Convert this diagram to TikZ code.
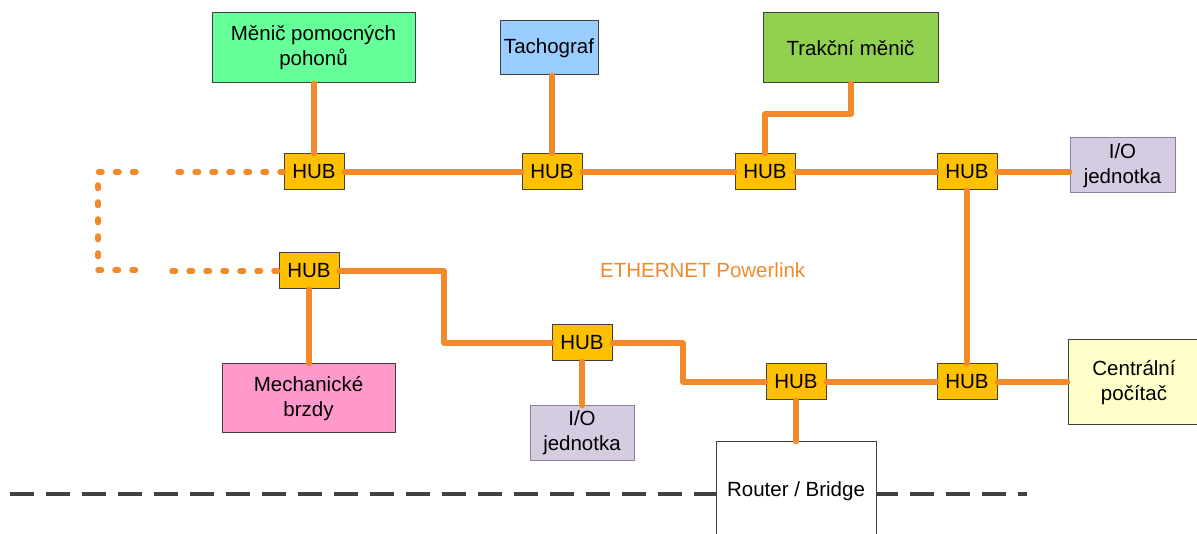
\documentclass[tikz,border=0pt]{standalone}
\usepackage{fontspec}
\setmainfont{Liberation Sans}
\definecolor{lnk}{HTML}{F28A2C}
\definecolor{hubc}{HTML}{FFC000}
\definecolor{c1}{HTML}{66FF99}
\definecolor{c2}{HTML}{99CCFF}
\definecolor{c3}{HTML}{92D050}
\definecolor{c4}{HTML}{D5CCE2}
\definecolor{c5}{HTML}{FF99CC}
\definecolor{c6}{HTML}{FFFFCC}
\definecolor{dk}{HTML}{404040}
\definecolor{iob}{HTML}{8A7E9E}
\begin{document}
\begin{tikzpicture}[x=1pt,y=-1pt,
  box/.style={draw=dk,line width=1pt,rectangle,inner sep=0pt,align=center,
    font=\fontsize{20.5}{25}\selectfont},
  hub/.style={box,fill=hubc,minimum width=60pt,minimum height=36pt},
  link/.style={draw=lnk,line width=5.5pt,line cap=round,line join=round},
  dots/.style={draw=lnk,line width=5.5pt,line cap=round,dash pattern=on 3.5pt off 13.5pt},
  sep/.style={draw=dk,line width=3.5pt,dash pattern=on 24pt off 12pt}]
\clip (0,0) rectangle (1197,534);
\fill[white] (0,0) rectangle (1197,534);
% separator
\coordinate (s1) at (10,494);
\coordinate (s2) at (1027,494);
\draw[sep] (s1) -- (s2);
% nodes
\node[box,fill=c1,minimum width=203pt,minimum height=70pt] (men) at (313.5,48) {Měnič pomocných\\pohonů};
\node[box,fill=c2,minimum width=98pt,minimum height=54pt] (tach) at (549,48) {Tachograf};
\node[box,fill=c3,minimum width=175pt,minimum height=70pt] (trak) at (850.5,48) {Trakční měnič};
\node[box,draw=iob,fill=c4,minimum width=105pt,minimum height=55pt] (io1) at (1122.5,165.5) {I/O\\jednotka};
\node[hub] (hub1) at (314,172) {HUB};
\node[hub] (hub2) at (552,172) {HUB};
\node[hub] (hub3) at (765,172) {HUB};
\node[hub] (hub4) at (967,172) {HUB};
\node[hub] (hubL) at (309,271) {HUB};
\node[hub] (hub5) at (582,343) {HUB};
\node[hub] (hub6) at (796,382) {HUB};
\node[hub] (hub7) at (967,382) {HUB};
\node[box,fill=c5,minimum width=173pt,minimum height=69pt] (mech) at (308.5,398.5) {Mechanické\\brzdy};
\node[box,draw=iob,fill=c4,minimum width=104pt,minimum height=54pt] (io2) at (582,433) {I/O\\jednotka};
\node[box,fill=c6,minimum width=132pt,minimum height=85pt] (cent) at (1134,382.5) {Centrální\\počítač};
\node[box,fill=white,minimum width=160pt,minimum height=98pt] (router) at (796,491) {Router / Bridge};
\node[text=lnk,font=\fontsize{20.5}{25}\selectfont,anchor=west,inner sep=0pt] (eth) at (600,270) {ETHERNET Powerlink};
% connectors
\coordinate (t1) at (851,114);
\coordinate (t2) at (765,114);
\draw[link] (hub1.north |- men.south) -- (hub1.north);
\draw[link] (hub2.north |- tach.south) -- (hub2.north);
\draw[link] (trak.south -| t1) -- (t1) -- (t2) -- (hub3.north);
\draw[link] (hub1.east) -- (hub2.west);
\draw[link] (hub2.east) -- (hub3.west);
\draw[link] (hub3.east) -- (hub4.west);
\draw[link] (hub4.east) -- (hub4.east -| io1.west);
\draw[link] (hub4.south) -- (hub7.north);
\coordinate (b1) at (444,271);
\draw[link] (hubL.east) -- (b1) |- (hub5.west);
\draw[link] (hubL.south) -- (hubL.south |- mech.north);
\draw[link] (hub5.south) -- (io2.north);
\coordinate (b2) at (683,343);
\draw[link] (hub5.east) -- (b2) |- (hub6.west);
\draw[link] (hub6.east) -- (hub7.west);
\draw[link] (hub7.east) -- (hub7.east -| cent.west);
\draw[link] (hub6.south) -- (router.north);
% dotted loop
\coordinate (d1) at (177,172);
\coordinate (d2) at (136,172);
\coordinate (d3) at (98,172);
\coordinate (d4) at (98,270);
\coordinate (d5) at (136,270);
\coordinate (d6) at (172,271);
\draw[dots] (hub1.west) -- (d1);
\draw[dots] (d2) -- (d3) -- (d4) -- (d5);
\draw[dots] (d6) -- (hubL.west);
\end{tikzpicture}
\end{document}
